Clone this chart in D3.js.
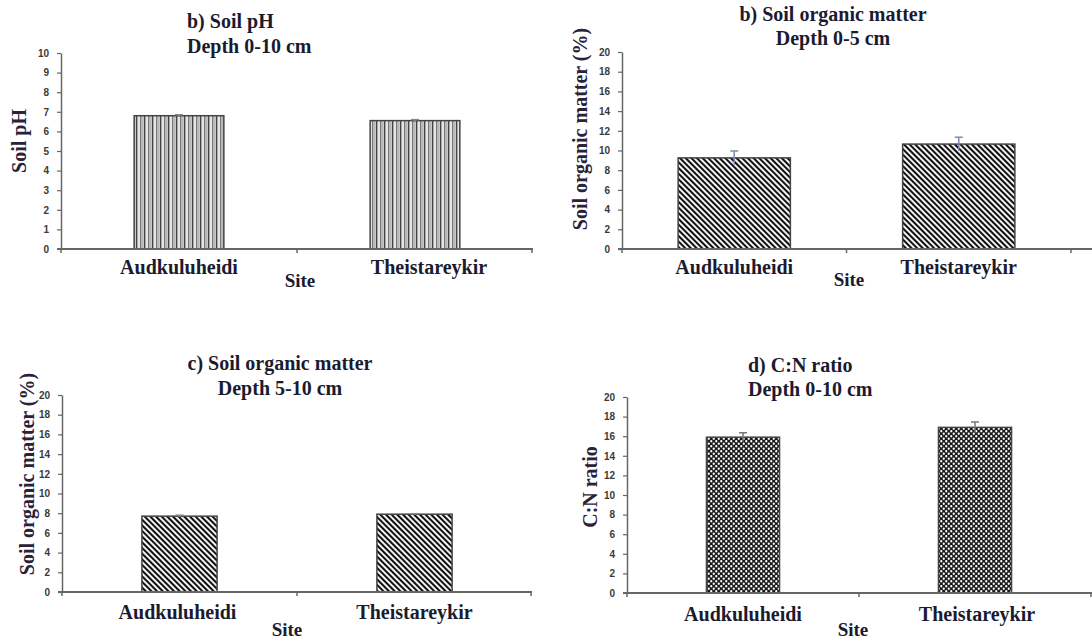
<!DOCTYPE html>
<html>
<head>
<meta charset="utf-8">
<script src="https://cdn.jsdelivr.net/npm/d3@7"></script>
<style>
  body { margin: 0; background: #fff; }
  svg { display: block; }
  .tick text { font-family: "Liberation Sans", Arial, sans-serif; font-weight: bold; font-size: 10px; fill: #3a3a3a; }
</style>
</head>
<body>
<svg id="chart" width="1092" height="644"></svg>
<script>
// data
var sites = ['Audkuluheidi', 'Theistareykir']

var phValues = [6.8, 6.55]
var phErrors = [0.05, 0.05]
var phTicks = [0, 1, 2, 3, 4, 5, 6, 7, 8, 9, 10]

var somTopValues = [9.25, 10.65]
var somTopErrors = [0.7, 0.7]

var somDeepValues = [7.7, 7.9]
var somDeepErrors = [0.1, 0.05]

var cnValues = [15.9, 16.9]
var cnErrors = [0.45, 0.55]

var evenTicks = [0, 2, 4, 6, 8, 10, 12, 14, 16, 18, 20]

var serifFont = '"Liberation Serif", "DejaVu Serif", "Times New Roman", Times, serif'

var svg = d3.select('#chart')
var defs = svg.append('defs')

// vertical stripes (pH)
var pv = defs.append('pattern').attr('id', 'vstripe')
  .attr('patternUnits', 'userSpaceOnUse').attr('width', 8).attr('height', 8)
pv.append('rect').attr('width', 8).attr('height', 8).attr('fill', '#d8d8d8')
pv.append('rect').attr('x', 0).attr('width', 1.3).attr('height', 8).attr('fill', '#444')
pv.append('rect').attr('x', 2.5).attr('width', 1).attr('height', 8).attr('fill', '#f4f4f4')
pv.append('rect').attr('x', 4).attr('width', 1.3).attr('height', 8).attr('fill', '#777')
pv.append('rect').attr('x', 6.3).attr('width', 1).attr('height', 8).attr('fill', '#aaa')

// diagonal stripes (organic matter)
var pd = defs.append('pattern').attr('id', 'dstripe')
  .attr('patternUnits', 'userSpaceOnUse').attr('width', 4).attr('height', 8)
  .attr('patternTransform', 'rotate(-45)')
pd.append('rect').attr('width', 4).attr('height', 8).attr('fill', '#fff')
pd.append('rect').attr('width', 2.1).attr('height', 8).attr('fill', '#111')

// dotted checker (C:N)
var pc = defs.append('pattern').attr('id', 'checker')
  .attr('patternUnits', 'userSpaceOnUse').attr('width', 5).attr('height', 5)
pc.append('rect').attr('width', 5).attr('height', 5).attr('fill', '#1a1a1a')
pc.append('circle').attr('cx', 1.25).attr('cy', 1.25).attr('r', 1.15).attr('fill', '#fff')
pc.append('circle').attr('cx', 3.75).attr('cy', 3.75).attr('r', 1.15).attr('fill', '#fff')

var panels = [
  { title: ['b) Soil pH', 'Depth 0-10 cm'], titleX: 187, titleAnchor: 'start', titleY: [28, 53],
    values: phValues, errors: phErrors, max: 10, ticks: phTicks, fill: 'url(#vstripe)', errColor: '#888',
    ylabel: 'Soil pH', ylabelX: 19, ylabelY: 141,
    x0: 61, x1: 533, xEnd: 533, y0: 249, yTop: 53, pad: 0.62,
    catY: 274, siteX: 300, siteY: 287, labelShift: [0, 14] },
  { title: ['b) Soil organic matter', 'Depth 0-5 cm'], titleX: 833, titleAnchor: 'middle', titleY: [21, 45],
    values: somTopValues, errors: somTopErrors, max: 20, ticks: evenTicks, fill: 'url(#dstripe)', errColor: '#7d8cab',
    ylabel: 'Soil organic matter (%)', ylabelX: 580, ylabelY: 129,
    x0: 622, x1: 1071, xEnd: 1092, y0: 249, yTop: 52, pad: 0.5,
    catY: 274, siteX: 849, siteY: 286, labelShift: [0, 0] },
  { title: ['c) Soil organic matter', 'Depth 5-10 cm'], titleX: 280, titleAnchor: 'middle', titleY: [370, 395],
    values: somDeepValues, errors: somDeepErrors, max: 20, ticks: evenTicks, fill: 'url(#dstripe)', errColor: '#888',
    ylabel: 'Soil organic matter (%)', ylabelX: 27, ylabelY: 474,
    x0: 62, x1: 532, xEnd: 532, y0: 592, yTop: 395, pad: 0.68,
    catY: 619, siteX: 287, siteY: 636, labelShift: [-2, 0] },
  { title: ['d) C:N ratio', 'Depth 0-10 cm'], titleX: 748, titleAnchor: 'start', titleY: [372, 396],
    values: cnValues, errors: cnErrors, max: 20, ticks: evenTicks, fill: 'url(#checker)', errColor: '#777',
    ylabel: 'C:N ratio', ylabelX: 590, ylabelY: 487,
    x0: 627, x1: 1091, xEnd: 1092, y0: 593, yTop: 397, pad: 0.685,
    catY: 621, siteX: 853, siteY: 636, labelShift: [0, 2] }
]

function serifText(sel, size, colour) {
  return sel.attr('font-family', serifFont)
    .attr('font-weight', 'bold')
    .attr('font-size', size)
    .attr('fill', colour || '#1b1b2f')
}

panels.forEach(function(p) {
  var g = svg.append('g')

  var x = d3.scaleBand().domain(sites).range([p.x0, p.x1])
    .paddingInner(p.pad).paddingOuter(p.pad / 2)
  var y = d3.scaleLinear().domain([0, p.max]).range([p.y0, p.yTop])

  // titles
  g.selectAll('text.title')
    .data(p.title)
    .enter()
    .append('text')
    .attr('class', 'title')
    .attr('x', p.titleX)
    .attr('y', function(d, i) { return p.titleY[i] })
    .attr('text-anchor', p.titleAnchor)
    .call(serifText, 20)
    .text(function(d) { return d })

  // bars
  var rows = sites.map(function(s, i) { return { site: s, v: p.values[i], e: p.errors[i] } })

  g.selectAll('rect.bar')
    .data(rows)
    .enter()
    .append('rect')
    .attr('class', 'bar')
    .attr('x', function(d) { return x(d.site) })
    .attr('y', function(d) { return y(d.v) })
    .attr('width', x.bandwidth())
    .attr('height', function(d) { return y(0) - y(d.v) })
    .attr('fill', p.fill)
    .attr('stroke', '#444')
    .attr('stroke-width', 1.5)

  // error bars (upper cap only)
  var eb = g.selectAll('g.err')
    .data(rows)
    .enter()
    .append('g')
    .attr('class', 'err')
  eb.append('line')
    .attr('x1', function(d) { return x(d.site) + x.bandwidth() / 2 })
    .attr('x2', function(d) { return x(d.site) + x.bandwidth() / 2 })
    .attr('y1', function(d) { return y(d.v - d.e) })
    .attr('y2', function(d) { return y(d.v + d.e) })
    .attr('stroke', p.errColor).attr('stroke-width', 1.5)
  eb.append('line')
    .attr('x1', function(d) { return x(d.site) + x.bandwidth() / 2 - 4 })
    .attr('x2', function(d) { return x(d.site) + x.bandwidth() / 2 + 4 })
    .attr('y1', function(d) { return y(d.v + d.e) })
    .attr('y2', function(d) { return y(d.v + d.e) })
    .attr('stroke', p.errColor).attr('stroke-width', 1.5)

  // y axis
  var ya = g.append('g')
    .attr('transform', 'translate(' + p.x0 + ',0)')
    .call(d3.axisLeft(y).tickValues(p.ticks).tickSize(4).tickSizeOuter(0).tickPadding(8))
  ya.select('.domain').attr('stroke', '#666').attr('stroke-width', 1.5)
  ya.selectAll('.tick line').attr('stroke', '#666').attr('stroke-width', 1.2)

  // x axis: line plus small ticks at band boundaries
  var bounds = [p.x0, p.x0 + x.step(), p.x0 + 2 * x.step()]
  g.append('line')
    .attr('x1', p.x0 - 4).attr('x2', p.xEnd)
    .attr('y1', y(0)).attr('y2', y(0))
    .attr('stroke', '#666').attr('stroke-width', 2)
  g.selectAll('line.xt')
    .data(bounds)
    .enter()
    .append('line')
    .attr('class', 'xt')
    .attr('x1', function(d) { return Math.min(d, p.xEnd - 1) })
    .attr('x2', function(d) { return Math.min(d, p.xEnd - 1) })
    .attr('y1', y(0)).attr('y2', y(0) + 4)
    .attr('stroke', '#666').attr('stroke-width', 1.5)

  // category labels
  g.selectAll('text.cat')
    .data(sites)
    .enter()
    .append('text')
    .attr('class', 'cat')
    .attr('x', function(d, i) { return x(d) + x.bandwidth() / 2 + p.labelShift[i] })
    .attr('y', p.catY)
    .attr('text-anchor', 'middle')
    .call(serifText, 20)
    .text(function(d) { return d })

  g.append('text')
    .attr('x', p.siteX).attr('y', p.siteY)
    .attr('text-anchor', 'middle')
    .call(serifText, 19)
    .text('Site')

  // y label
  g.append('text')
    .attr('transform', 'translate(' + p.ylabelX + ',' + p.ylabelY + ') rotate(-90)')
    .attr('text-anchor', 'middle')
    .attr('dy', '0.35em')
    .call(serifText, 20, '#2a2238')
    .text(p.ylabel)
})
</script>
</body>
</html>
